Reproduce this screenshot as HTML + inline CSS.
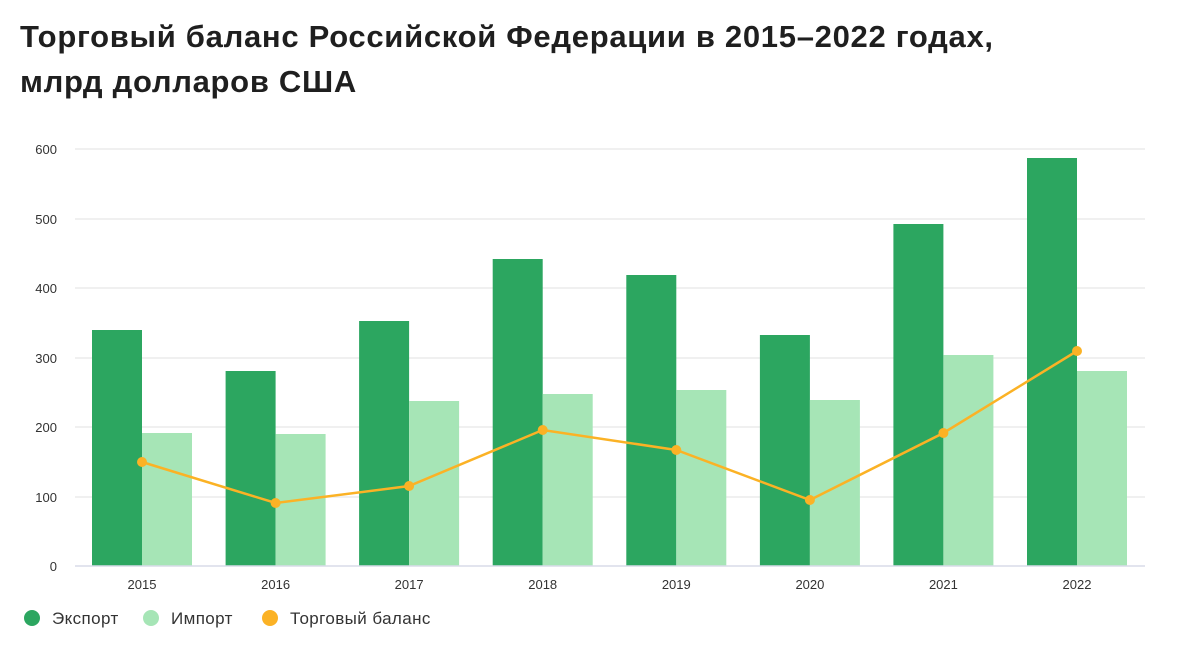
<!DOCTYPE html>
<html><head><meta charset="utf-8"><style>
body{margin:0;background:#fff;width:1181px;height:656px;overflow:hidden;font-family:"Liberation Sans",sans-serif}
h1{position:absolute;left:20px;top:14px;margin:0;font-size:31px;line-height:45px;font-weight:bold;color:#1f1f1f;letter-spacing:0.7px}
</style></head><body>
<h1>Торговый баланс Российской Федерации в 2015–2022 годах,<br>млрд долларов США</h1>
<svg width="1181" height="656" style="position:absolute;left:0;top:0" font-family="Liberation Sans, sans-serif">
<g stroke="#ececec" stroke-width="1.5">
<line x1="75" x2="1145" y1="149" y2="149"/><line x1="75" x2="1145" y1="219" y2="219"/>
<line x1="75" x2="1145" y1="288" y2="288"/><line x1="75" x2="1145" y1="358" y2="358"/>
<line x1="75" x2="1145" y1="427" y2="427"/><line x1="75" x2="1145" y1="497" y2="497"/>
</g>
<g font-size="13" fill="#333" text-anchor="end">
<text x="57" y="154">600</text><text x="57" y="224">500</text><text x="57" y="293">400</text>
<text x="57" y="363">300</text><text x="57" y="432">200</text><text x="57" y="502">100</text><text x="57" y="571">0</text>
</g>
<g fill="#2ca660">
<rect x="92" y="330" width="50" height="236"/><rect x="225.6" y="371" width="50" height="195"/>
<rect x="359.1" y="321" width="50" height="245"/><rect x="492.7" y="259" width="50" height="307"/>
<rect x="626.3" y="275" width="50" height="291"/><rect x="759.9" y="335" width="50" height="231"/>
<rect x="893.4" y="224" width="50" height="342"/><rect x="1027" y="158" width="50" height="408"/>
</g>
<g fill="#a6e5b6">
<rect x="142" y="433" width="50" height="133"/><rect x="275.6" y="434" width="50" height="132"/>
<rect x="409.1" y="401" width="50" height="165"/><rect x="542.7" y="394" width="50" height="172"/>
<rect x="676.3" y="390" width="50" height="176"/><rect x="809.9" y="400" width="50" height="166"/>
<rect x="943.4" y="355" width="50" height="211"/><rect x="1077" y="371" width="50" height="195"/>
</g>
<line x1="75" x2="1145" y1="566" y2="566" stroke="#d8dbe8" stroke-width="1.5"/>
<g font-size="13" fill="#333" text-anchor="middle">
<text x="142" y="589">2015</text><text x="275.6" y="589">2016</text><text x="409.1" y="589">2017</text>
<text x="542.7" y="589">2018</text><text x="676.3" y="589">2019</text><text x="809.9" y="589">2020</text>
<text x="943.4" y="589">2021</text><text x="1077" y="589">2022</text>
</g>
<polyline fill="none" stroke="#fbb225" stroke-width="2.5" points="142,462 275.6,503 409.1,486 542.7,430 676.3,450 809.9,500 943.4,433 1077,351"/>
<g fill="#fbb225">
<circle cx="142" cy="462" r="5"/><circle cx="275.6" cy="503" r="5"/><circle cx="409.1" cy="486" r="5"/>
<circle cx="542.7" cy="430" r="5"/><circle cx="676.3" cy="450" r="5"/><circle cx="809.9" cy="500" r="5"/>
<circle cx="943.4" cy="433" r="5"/><circle cx="1077" cy="351" r="5"/>
</g>
<g font-size="17" fill="#333" letter-spacing="0.4">
<circle cx="32" cy="618" r="8" fill="#2ca660"/><text x="52" y="624">Экспорт</text>
<circle cx="151" cy="618" r="8" fill="#a6e5b6"/><text x="171" y="624">Импорт</text>
<circle cx="270" cy="618" r="8" fill="#fbb225"/><text x="290" y="624">Торговый баланс</text>
</g>
</svg>
</body></html>
